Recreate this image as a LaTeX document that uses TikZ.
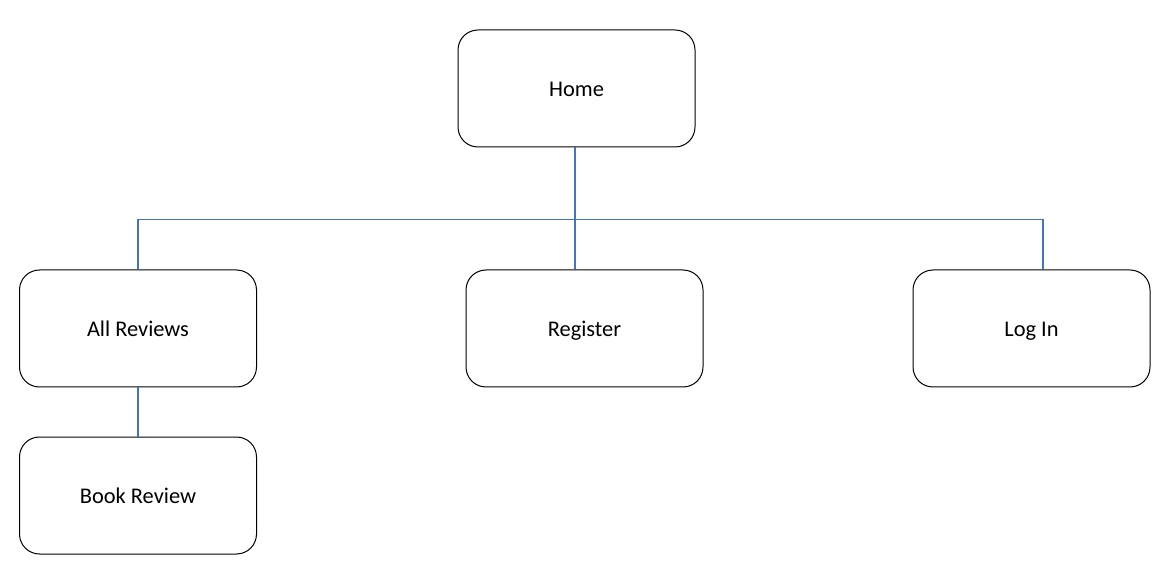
\documentclass[tikz,border=0pt]{standalone}
\usepackage{fontspec}
\setmainfont{Carlito}
\usepackage{xcolor}
\usetikzlibrary{positioning}
\definecolor{linkblue}{HTML}{4472C4}

\begin{document}
\begin{tikzpicture}[x=0.5pt, y=0.5pt, every node/.style={font=\fontsize{11.2}{13.4}\selectfont},
  page/.style={draw, line width=0.5pt, rounded corners=10pt, align=center, text height=8.8pt, text depth=1pt,
    minimum width=118.5pt, minimum height=58.5pt},
  link/.style={draw=linkblue, line width=0.6pt}]
\useasboundingbox (0,0) rectangle (1173,579);
\node[page] (home) at (576.5,490.5) {Home};
\node[page] (allrev) at (138,250.5) {All Reviews};
\node[page] (reg) at (584.5,250.5) {Register};
\node[page] (login) at (1031.5,250.5) {Log In};
\node[page] (bookrev) at (138,83.5) {Book Review};
\coordinate (bus) at (575,359.5);
\draw[link] ([xshift=-0.75pt]home.south) -- (bus);
\draw[link] (allrev.north) |- (bus);
\draw[link] (bus) -| ([xshift=5.75pt]login.north);
\draw[link] (bus) -- (bus |- reg.north);
\draw[link] (allrev.south) -- (bookrev.north);
\end{tikzpicture}
\end{document}
